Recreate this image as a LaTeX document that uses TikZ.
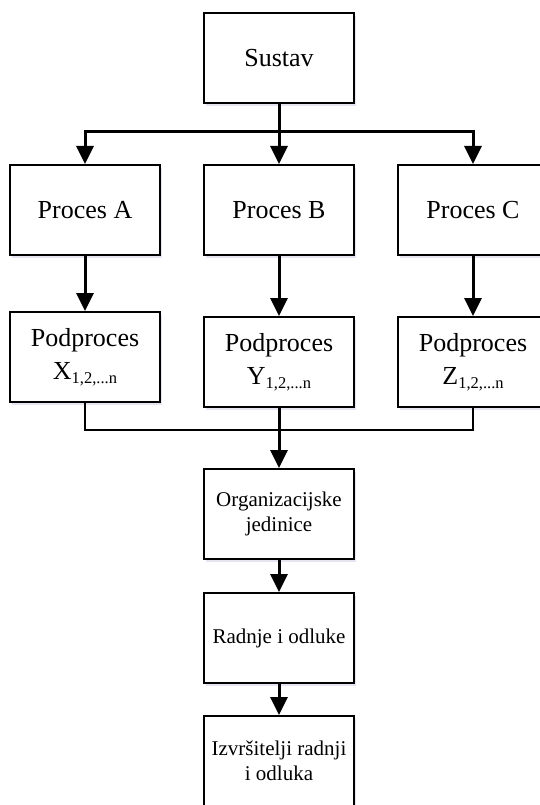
\documentclass[tikz,border=0pt]{standalone}
\usepackage{fontspec}
\setmainfont{Liberation Serif}
\usetikzlibrary{arrows.meta,shadows}

\newcommand{\velik}{\fontsize{26}{33}\selectfont}
\newcommand{\mali}{\fontsize{21}{25}\selectfont}
\newcommand{\indeks}{\raisebox{-4pt}{\fontsize{16.5}{18}\selectfont 1,2,...n}}

\tikzset{
  blok/.style={draw,line width=2pt,fill=white,minimum width=150pt,
    minimum height=90pt,align=center,inner sep=2pt,font=\velik,
    drop shadow={shadow xshift=1.5pt,shadow yshift=-3pt,
      fill=blue!30!gray!35,opacity=.45}},
  veza/.style={line width=3pt,-{Triangle[length=18pt,width=17pt]}},
  spoj/.style={line width=2pt},
}

\begin{document}
\begin{tikzpicture}[x=1pt,y=-1pt]
\clip (0,0) rectangle (540,805);
% vrh
\node[blok] (sustav) at (279,58) {Sustav};
% procesi
\node[blok] (procesA) at (85,210) {Proces A};
\node[blok] (procesB) at (279,210) {Proces B};
\node[blok] (procesC) at (473,210) {Proces C};
% podprocesi
\node[blok] (podX) at (85,357) {Podproces\\X\indeks};
\node[blok] (podY) at (279,362) {Podproces\\Y\indeks};
\node[blok] (podZ) at (473,362) {Podproces\\Z\indeks};
% donji dio
\node[blok,font=\mali] (org) at (279,514) {Organizacijske\\jedinice};
\node[blok,font=\mali] (radnje) at (279,638) {Radnje i odluke};
\node[blok,font=\mali] (izvrs) at (279,761) {Izvršitelji radnji\\i odluka};

\coordinate (razdjel) at (279,131.5);
\coordinate (sabir) at (279,429.5);

\draw[veza] (sustav) -- (procesB);
\draw[veza] (razdjel) -| (procesA.north);
\draw[veza] (razdjel) -| (procesC.north);
\draw[veza] (procesA) -- (podX);
\draw[veza] (procesB) -- (podY);
\draw[veza] (procesC) -- (podZ);
\draw[spoj] (podX.south) |- (sabir) -| (podZ.south);
\draw[veza] (podY) -- (org);
\draw[veza] (org) -- (radnje);
\draw[veza] (radnje) -- (izvrs);
\end{tikzpicture}
\end{document}
